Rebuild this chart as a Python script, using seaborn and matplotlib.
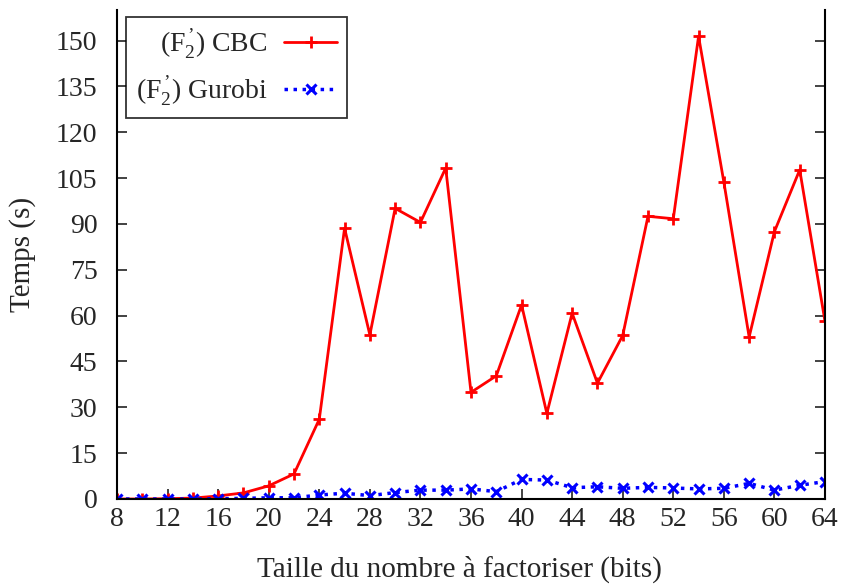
import numpy as np
import pandas as pd
import matplotlib
matplotlib.use("Agg")
import matplotlib.pyplot as plt
import seaborn as sns

bits = [8, 10, 12, 14, 16, 18, 20, 22, 24, 26, 28, 30, 32, 34, 36, 38,
        40, 42, 44, 46, 48, 50, 52, 54, 56, 58, 60, 62, 64]
cbc = [0.0, 0.0, 0.1, 0.3, 1.0, 2.0, 4.3, 8.2, 26.1, 88.6, 53.7, 95.1, 90.5, 108.3, 34.9,
       40.3, 63.5, 28.0, 60.8, 37.9, 53.5, 92.5, 91.7, 151.4, 103.7, 53.0, 87.5, 107.7, 58.1]
gurobi = [0.0, 0.0, 0.0, 0.0, 0.1, 0.2, 0.4, 0.4, 1.3, 1.9, 1.1, 2.1, 2.9, 2.9, 3.3,
          2.4, 6.4, 6.2, 3.7, 4.0, 3.5, 3.8, 3.6, 3.3, 3.5, 5.1, 2.9, 4.5, 5.7]

label_cbc = "(F$_\\mathregular{2}^{\\,\\mathregular{’}}$) CBC"
label_gurobi = "(F$_\\mathregular{2}^{\\,\\mathregular{’}}$) Gurobi"

df = pd.DataFrame({"bits": bits, "cbc": cbc, "gurobi": gurobi})

sns.set_style("ticks")
plt.rcParams["font.family"] = ["Liberation Serif", "DejaVu Serif"]
plt.rcParams["mathtext.fontset"] = "custom"
plt.rcParams["mathtext.rm"] = "Liberation Serif"
plt.rcParams["mathtext.it"] = "Liberation Serif:italic"

fig = plt.figure(figsize=(8.41, 5.86), dpi=100)
ax = fig.add_axes([117 / 841, 87 / 586, 708 / 841, 489 / 586])

sns.lineplot(data=df, x="bits", y="cbc", ax=ax, color="#ff0000", linewidth=2,
             marker="+", markersize=9, markeredgewidth=2, markeredgecolor="#ff0000",
             label=label_cbc)
sns.lineplot(data=df, x="bits", y="gurobi", ax=ax, color="#0000ff", linewidth=2.5,
             linestyle=(0, (1, 1.6)), marker="x", markersize=7, markeredgewidth=2.2,
             markeredgecolor="#0000ff", label=label_gurobi)

ax.set_xlim(8, 64)
ax.set_ylim(0, 160)
ax.set_xticks(np.arange(8, 65, 4))
ax.set_yticks(np.arange(0, 151, 15))
ax.tick_params(axis="both", direction="in", length=7, width=1.2, labelsize=20,
               right=True, top=False, color="#222222")
ax.tick_params(axis="x", pad=6)
ax.tick_params(axis="y", pad=14)
for s in ["left", "right", "bottom"]:
    ax.spines[s].set_linewidth(1.5)
    ax.spines[s].set_color("black")
ax.spines["top"].set_visible(False)

ax.set_xlabel("Taille du nombre à factoriser (bits)", fontsize=21, labelpad=17)
ax.xaxis.label.set_x(0.483)
ax.set_ylabel("Temps (s)", fontsize=21, labelpad=14)

leg = ax.legend(loc="upper left", bbox_to_anchor=(0.013, 0.985), fontsize=20,
                markerfirst=False, handlelength=1.9, frameon=True, fancybox=False,
                edgecolor="black", borderpad=0.35, labelspacing=0.5, handletextpad=0.6,
                borderaxespad=0)
leg.get_frame().set_linewidth(1.3)

plt.savefig("out.png", dpi=100)
